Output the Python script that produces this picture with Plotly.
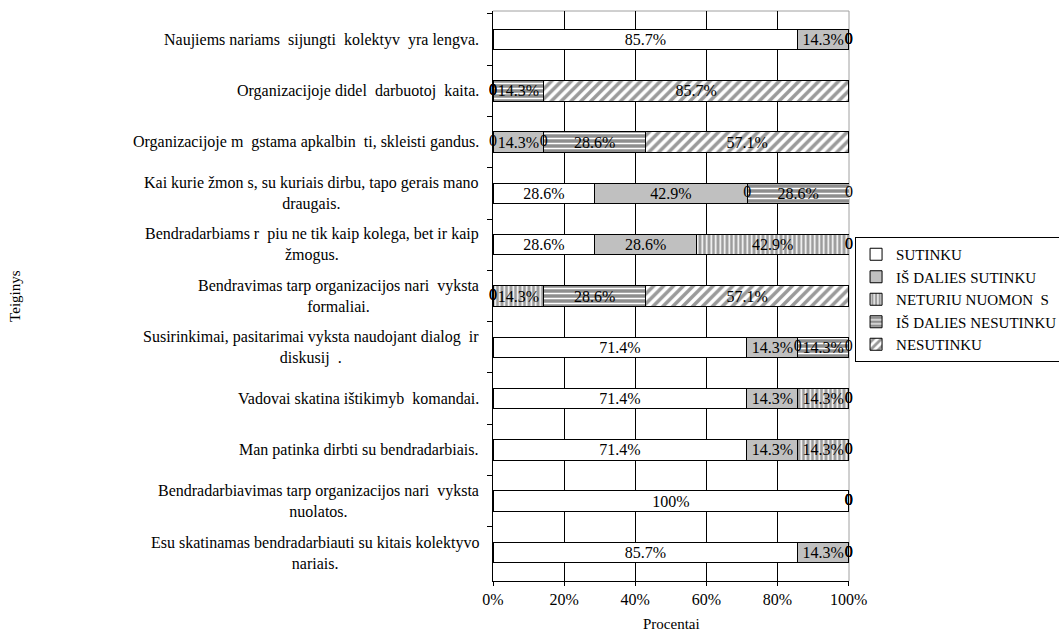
import plotly.graph_objects as go

# Statements (top to bottom); blanks stand where the source font dropped letters
statements = [
    "Naujiems nariams \u00a0sijungti \u00a0kolektyv \u00a0yra lengva.",
    "Organizacijoje didel \u00a0darbuotoj \u00a0kaita.",
    "Organizacijoje m \u00a0gstama apkalbin \u00a0ti, skleisti gandus.",
    "Kai kurie žmon s, su kuriais dirbu, tapo gerais mano<br>draugais.",
    "Bendradarbiams r \u00a0piu ne tik kaip kolega, bet ir kaip<br>žmogus.",
    "Bendravimas tarp organizacijos nari \u00a0vyksta<br>formaliai.",
    "Susirinkimai, pasitarimai vyksta naudojant dialog \u00a0ir<br>diskusij \u00a0.",
    "Vadovai skatina ištikimyb \u00a0komandai.",
    "Man patinka dirbti su bendradarbiais.",
    "Bendradarbiavimas tarp organizacijos nari \u00a0vyksta<br>nuolatos.",
    "Esu skatinamas bendradarbiauti su kitais kolektyvo<br>nariais.",
]
row_keys = [f"s{i}" for i in range(len(statements))]

answer_names = [
    "SUTINKU",
    "IŠ DALIES SUTINKU",
    "NETURIU NUOMON \u00a0S",
    "IŠ DALIES NESUTINKU",
    "NESUTINKU",
]

# Percent of respondents per statement
sutinku = [85.7, 0, 0, 28.6, 28.6, 0, 71.4, 71.4, 71.4, 100, 85.7]
is_dalies_sutinku = [14.3, 0, 14.3, 42.9, 28.6, 0, 14.3, 14.3, 14.3, 0, 14.3]
neturiu_nuomones = [0, 0, 0, 0, 42.9, 14.3, 0, 14.3, 14.3, 0, 0]
is_dalies_nesutinku = [0, 14.3, 28.6, 28.6, 0, 28.6, 14.3, 0, 0, 0, 0]
nesutinku = [0, 85.7, 57.1, 0, 0, 57.1, 0, 0, 0, 0, 0]

x_ticks = [0, 20, 40, 60, 80, 100]
x_tick_labels = ["0%", "20%", "40%", "60%", "80%", "100%"]

series = [sutinku, is_dalies_sutinku, neturiu_nuomones, is_dalies_nesutinku, nesutinku]

styles = [
    dict(color="#ffffff"),
    dict(color="#c0c0c0"),
    dict(color="#9c9c9c", pattern=dict(shape="|", fgcolor="#ffffff", bgcolor="#9c9c9c",
                                       size=4.5, solidity=0.35, fillmode="replace")),
    dict(color="#8e8e8e", pattern=dict(shape="-", fgcolor="#ffffff", bgcolor="#8e8e8e",
                                       size=5, solidity=0.3, fillmode="replace")),
    dict(color="#a0a0a0", pattern=dict(shape="/", fgcolor="#9a9a9a", bgcolor="#ffffff",
                                       size=7, solidity=0.5, fillmode="replace")),
]

SERIF = "Liberation Serif"

fig = go.Figure()
for name, vals, st in zip(answer_names, series, styles):
    fig.add_trace(go.Bar(
        name=name,
        y=row_keys,
        x=[v if v else None for v in vals],
        orientation="h",
        marker=dict(**st, line=dict(color="#000000", width=1)),
        text=[f"{v:g}%" if v else "" for v in vals],
        textposition="inside",
        insidetextanchor="middle",
        textangle=0,
        constraintext="none",
        textfont=dict(family=SERIF, size=16, color="#000000"),
        legendgroup=name,
        hoverinfo="skip",
    ))

# "0" labels for empty segments, placed where the segment would start
zx, zy = [], []
for r in range(len(row_keys)):
    acc = 0.0
    for vals in series:
        if vals[r] == 0:
            zx.append(acc)
            zy.append(row_keys[r])
        acc += vals[r]
fig.add_trace(go.Scatter(
    x=zx, y=zy, mode="text", text=["0"] * len(zx),
    textposition="middle center",
    textfont=dict(family=SERIF, size=16, color="#000000"),
    showlegend=False, cliponaxis=False, hoverinfo="skip",
))

x_max = max(sum(v[r] for v in series) for r in range(len(row_keys)))

annotations = []
for key, label in zip(row_keys, statements):
    annotations.append(dict(
        x=0, xref="paper", y=key, yref="y", xanchor="right", yanchor="middle",
        xshift=-12, text=label, align="center", showarrow=False,
        font=dict(family=SERIF, size=16, color="#000000"),
    ))
annotations.append(dict(
    x=0.5, xref="paper", y=-0.093, yref="paper", xanchor="center", yanchor="bottom",
    text="Procentai", showarrow=False, font=dict(family=SERIF, size=15, color="#000000"),
))
annotations.append(dict(
    x=-1.343, xref="paper", y=0.5, yref="paper", xanchor="center", yanchor="middle",
    text="Teiginys", textangle=-90, showarrow=False,
    font=dict(family=SERIF, size=15, color="#000000"),
))

fig.update_layout(
    width=1059, height=634,
    autosize=False,
    margin=dict(l=493, r=210, t=11, b=53, autoexpand=False),
    paper_bgcolor="#ffffff", plot_bgcolor="#ffffff",
    barmode="stack", bargap=0.6,
    font=dict(family=SERIF, size=16, color="#000000"),
    annotations=annotations,
    shapes=[
        dict(type="line", xref="paper", yref="paper", x0=0, x1=1, y0=1, y1=1,
             line=dict(color="#a0a0a0", width=1), layer="between"),
        dict(type="line", xref="paper", yref="paper", x0=1, x1=1, y0=0, y1=1,
             line=dict(color="#a0a0a0", width=1), layer="between"),
    ],
    legend=dict(
        x=1.017, y=0.6035, xanchor="left", yanchor="top",
        bordercolor="#000000", borderwidth=1, bgcolor="#ffffff",
        font=dict(family=SERIF, size=15, color="#000000"),
        traceorder="grouped", tracegroupgap=0,
    ),
    showlegend=True,
)
fig.update_xaxes(
    range=[0, x_max], tickvals=x_ticks, ticktext=x_tick_labels,
    showgrid=True, gridcolor="#000000", gridwidth=1,
    showline=True, linecolor="#000000", linewidth=1,
    ticks="outside", ticklen=4, tickcolor="#000000",
    tickfont=dict(family=SERIF, size=16, color="#000000"),
    zeroline=False, fixedrange=True,
)
fig.update_yaxes(
    categoryorder="array", categoryarray=row_keys, autorange="reversed",
    showticklabels=False, showgrid=False,
    showline=True, linecolor="#000000", linewidth=1,
    ticks="outside", ticklen=5, tickcolor="#000000", tickson="boundaries",
    zeroline=False, fixedrange=True,
)

fig.write_html("out.html")
